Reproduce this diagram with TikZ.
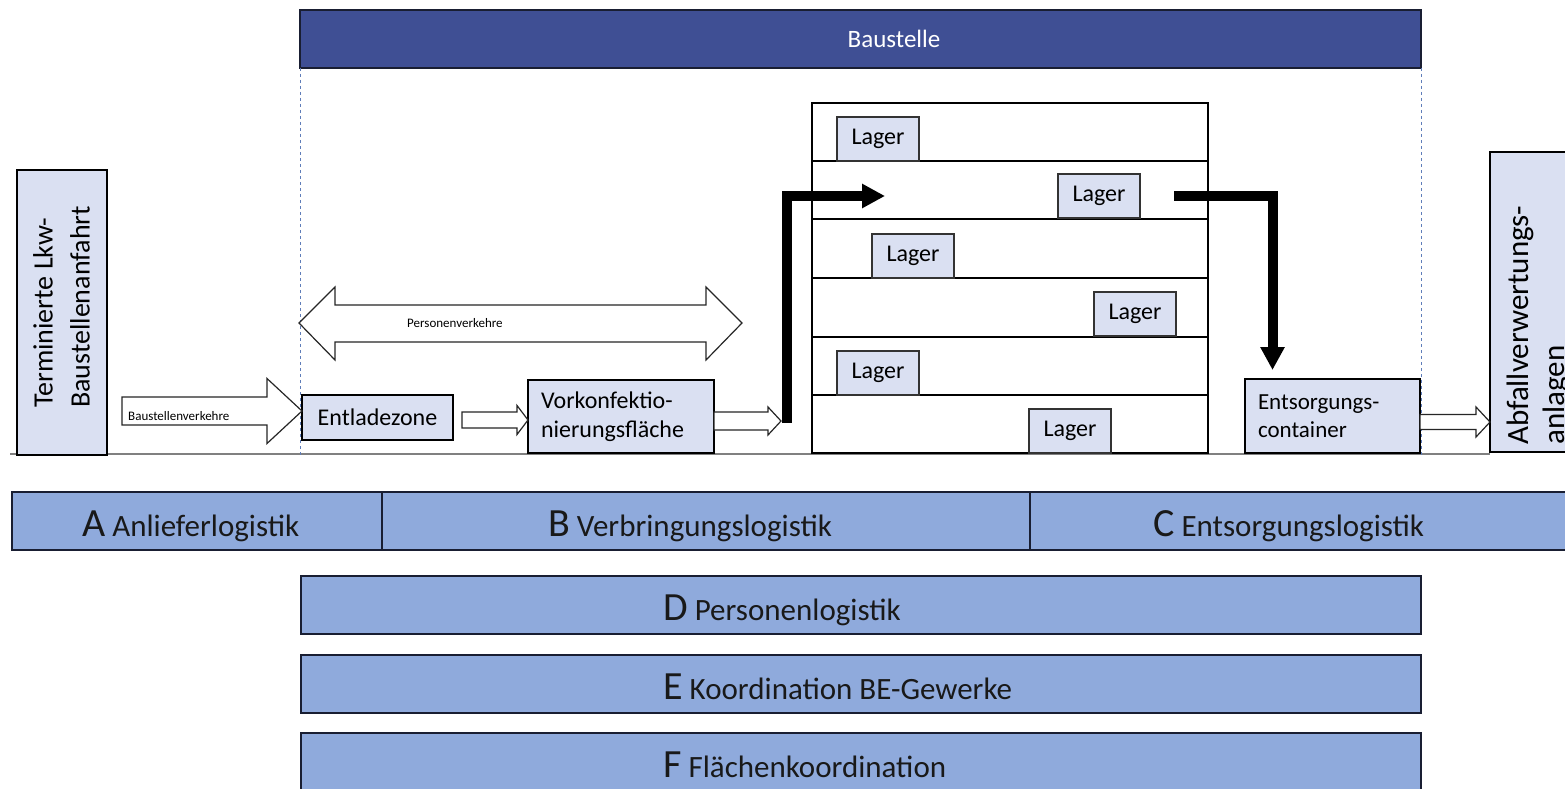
\documentclass[tikz,border=0pt]{standalone}
\usepackage{fontspec}
\setmainfont{Carlito}
\usetikzlibrary{arrows.meta,calc}
\definecolor{lightbox}{RGB}{218,224,242}
\definecolor{barfill}{RGB}{143,170,220}
\definecolor{topbar}{RGB}{63,79,148}
\definecolor{dashblue}{RGB}{95,125,185}
\definecolor{barline}{RGB}{25,30,50}
\definecolor{groundgray}{RGB}{128,128,128}
\newcommand{\setfs}[1]{\fontsize{#1}{#1}\selectfont}
\newcommand{\blockarr}[5]{\draw[barrow] let \p1=(#1), \p2=(#2) in
  (\x1,\y1+#3) -- (\x2-#5,\y1+#3) -- (\x2-#5,\y1+#4) -- (\x2,\y1) --
  (\x2-#5,\y1-#4) -- (\x2-#5,\y1-#3) -- (\x1,\y1-#3) -- cycle;}
\begin{document}
\begin{tikzpicture}[x=1pt,y=-1pt,
  lbox/.style={draw=black, line width=2pt, fill=lightbox, inner sep=0pt, outer sep=0pt, anchor=north west},
  lager/.style={draw=black!80, line width=1.3pt, fill=lightbox, inner sep=0pt, outer sep=0pt, anchor=north west, minimum width=82pt, minimum height=44pt, font=\setfs{24}},
  bar/.style={draw=barline, line width=2pt, fill=barfill, inner sep=0pt, outer sep=0pt, anchor=north west, minimum height=58pt},
  bartext/.style={anchor=base west, inner sep=0pt, font=\setfs{31}, text=black!90},
  smalltext/.style={anchor=base west, inner sep=0pt, font=\setfs{13}},
  rottext/.style={rotate=90, anchor=north west, align=left, inner sep=0pt},
  barrow/.style={draw=black!85, line width=1.2pt, fill=white, line join=miter},
  fatarrow/.style={line width=10pt, -{Triangle[length=23pt,width=23pt]}, line join=miter},
]
\useasboundingbox (0,0) rectangle (1565,789);
\clip (0,0) rectangle (1565,789);
\fill[white] (0,0) rectangle (1565,789);

% ground line
\draw[groundgray, line width=1.5pt] (10,454) -- (1490,454);

% Baustelle bar
\node[draw=barline, line width=1.5pt, fill=topbar, minimum width=1121pt, minimum height=58pt, anchor=north west, inner sep=0pt, outer sep=0pt] (baust) at (300,10) {};
\node[anchor=base, inner sep=0pt, text=white, font=\setfs{25}] (bausttext) at (894,48) {Baustelle};
\draw[dashblue, dashed, line width=0.8pt] (baust.south west) -- ++(0,387);
\draw[dashblue, dashed, line width=0.8pt] (baust.south east) -- ++(0,387);

% left / right vertical boxes
\node[lbox, minimum width=90pt, minimum height=285pt] (term) at (17,170) {};
\node[rottext, font=\fontsize{28}{37}\selectfont] (termtext) at (33,408) {Terminierte Lkw-\\Baustellenanfahrt};
\node[lbox, minimum width=120pt, minimum height=300pt] (abf) at (1490,152) {};
\node[rottext, font=\fontsize{31}{36}\selectfont] (abftext) at (1507,445) {Abfallverwertungs-\\anlagen};

% process boxes
\node[lbox, minimum width=151pt, minimum height=45pt, font=\setfs{24}] (entl) at (302,395) {Entladezone};
\node[lbox, minimum height=73pt, text width=160pt, inner xsep=13pt, align=left, font=\fontsize{24}{29}\selectfont] (vork) at (528,380) {Vorkonfektio-\\nierungsfläche};
\node[lbox, minimum height=74pt, text width=149pt, inner xsep=13pt, align=left, font=\fontsize{23}{28}\selectfont] (ent) at (1245,379) {Entsorgungs-\\container};

% building
\draw[line width=2.2pt] (812,103) rectangle (1208,453);
\foreach \yy in {161,219,278,337,395} \draw[line width=2pt] (812,\yy) -- (1208,\yy);
\node[lager] (lag1) at (837,117) {Lager};
\node[lager] (lag2) at (1058,174) {Lager};
\node[lager] (lag3) at (872,234) {Lager};
\node[lager] (lag4) at (1094,292) {Lager};
\node[lager] (lag5) at (837,351) {Lager};
\node[lager] (lag6) at (1029,409) {Lager};

% fat arrows
\coordinate (f1s) at (787,423);
\coordinate (f1e) at (885,196);
\draw[fatarrow] (f1s) |- (f1e);
\draw[fatarrow] ($(lag2.east)+(34,0)$) -| ($(ent.north)+(-60,-9)$);

% block arrows
\coordinate (bvs) at (122,411);
\blockarr{bvs}{entl.west}{14}{32.5}{35}
\node[smalltext] (bvtext) at (128,420) {Baustellenverkehre};
\coordinate (e2s) at ($(entl.east)+(9,2.5)$);
\blockarr{e2s}{vork.west}{8}{14.5}{11}
\coordinate (v3s) at ($(vork.east)+(0,4.5)$);
\blockarr{v3s}{$(f1s)+(-6,0)$}{9}{14}{13}
\coordinate (c4s) at ($(ent.east)+(0,6)$);
\blockarr{c4s}{abf.west}{7.5}{15}{14}

% Personenverkehre double arrow
\draw[barrow] (299,323) -- (335,287) -- (335,305) -- (706,305) -- (706,287) -- (742,323)
  -- (706,360) -- (706,342) -- (335,342) -- (335,360) -- cycle;
\node[smalltext] (pvtext) at (407,327) {Personenverkehre};

% bottom bars
\node[bar, minimum width=370pt] (barA) at (12,492) {};
\node[bar, minimum width=648pt] (barB) at (382,492) {};
\node[bar, minimum width=560pt] (barC) at (1030,492) {};
\node[bar, minimum width=1120pt] (barD) at (301,576) {};
\node[bar, minimum width=1120pt] (barE) at (301,655) {};
\node[bar, minimum width=1120pt] (barF) at (301,733) {};
\node[bartext] (tA) at ($(barA.north west)+(70,44)$) {{\setfs{40}A} Anlieferlogistik};
\node[bartext] (tB) at ($(barB.north west)+(166,44)$) {{\setfs{40}B} Verbringungslogistik};
\node[bartext] (tC) at ($(barC.north west)+(123,44)$) {{\setfs{40}C} Entsorgungslogistik};
\node[bartext] (tD) at ($(barD.north west)+(362,44)$) {{\setfs{40}D} Personenlogistik};
\node[bartext] (tE) at ($(barE.north west)+(362,44)$) {{\setfs{40}E} Koordination BE-Gewerke};
\node[bartext] (tF) at ($(barF.north west)+(362,44)$) {{\setfs{40}F} Flächenkoordination};
\end{tikzpicture}
\end{document}
